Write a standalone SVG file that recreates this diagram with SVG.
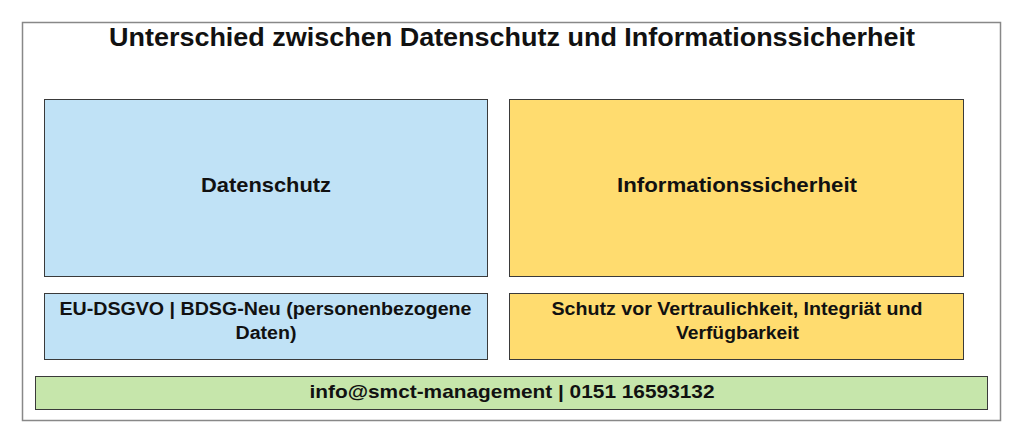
<svg xmlns="http://www.w3.org/2000/svg" width="1024" height="443" viewBox="0 0 1024 443">
<style>
text{font-family:"Liberation Sans",Arial,sans-serif;font-weight:bold;fill:#111;text-anchor:middle}
.box{stroke:#3a3a3a;stroke-width:1}
.blue{fill:#c0e2f6}
.yellow{fill:#ffdc6f}
.green{fill:#c6e6ab}
</style>
<rect width="1024" height="443" fill="#fff"/>
<g id="frame">
<rect x="22.5" y="22.5" width="978" height="398" fill="#fff" stroke="#888" stroke-width="1.5"/>
<text x="512" y="46" font-size="25.5" textLength="806" lengthAdjust="spacingAndGlyphs">Unterschied zwischen Datenschutz und Informationssicherheit</text>
</g>
<g id="datenschutz">
<rect class="box blue" x="44.5" y="99.5" width="443" height="177"/>
<text x="266" y="192" font-size="20.5" textLength="130" lengthAdjust="spacingAndGlyphs">Datenschutz</text>
</g>
<g id="informationssicherheit">
<rect class="box yellow" x="509.5" y="99.5" width="454" height="177"/>
<text x="737" y="192" font-size="20.5" textLength="240" lengthAdjust="spacingAndGlyphs">Informationssicherheit</text>
</g>
<g id="datenschutz-detail">
<rect class="box blue" x="44.5" y="293.5" width="443" height="66"/>
<text x="265.5" y="315" font-size="17.5" textLength="412" lengthAdjust="spacingAndGlyphs">EU-DSGVO | BDSG-Neu (personenbezogene</text>
<text x="266" y="339" font-size="17.5" textLength="61" lengthAdjust="spacingAndGlyphs">Daten)</text>
</g>
<g id="informationssicherheit-detail">
<rect class="box yellow" x="509.5" y="293.5" width="454" height="66"/>
<text x="737" y="315" font-size="17.5" textLength="371" lengthAdjust="spacingAndGlyphs">Schutz vor Vertraulichkeit, Integriät und</text>
<text x="737.5" y="339" font-size="17.5" textLength="123" lengthAdjust="spacingAndGlyphs">Verfügbarkeit</text>
</g>
<g id="kontakt">
<rect class="box green" x="35.5" y="376.5" width="952" height="33"/>
<text x="512" y="398" font-size="19" textLength="405" lengthAdjust="spacingAndGlyphs">info@smct-management | 0151 16593132</text>
</g>
<g id="connectors"></g>
</svg>
